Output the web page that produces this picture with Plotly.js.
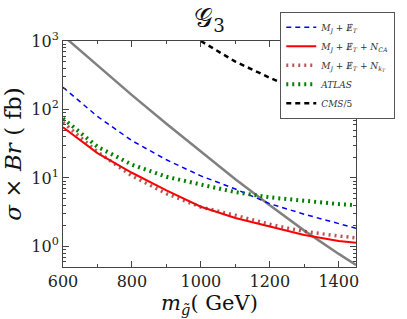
<!DOCTYPE html>
<html><head><meta charset="utf-8">
<script src="https://cdn.plot.ly/plotly-3.0.1.min.js"></script>
<style>html,body{margin:0;padding:0;background:#fff;}#c{width:407px;height:319px;}</style>
</head><body><div id="c"></div>
<script>
const mass = [600, 700, 800, 900, 1000, 1100, 1200, 1300, 1400, 1450];
const mjMet = [211, 79, 35, 18.4, 10.7, 6.9, 4.2, 2.95, 2.15, 1.84];
const mjMetNca = [55, 23, 11.9, 6.6, 3.8, 2.6, 1.95, 1.47, 1.2, 1.13];
const mjMetNkt = [65, 24, 10.7, 5.9, 3.75, 2.85, 2.1, 1.65, 1.42, 1.33];
const atlas = [74, 28.5, 15.6, 10.4, 8.0, 6.2, 5.2, 4.6, 4.15, 4.0];
const cmsMass = [1000, 1100, 1200, 1300, 1400, 1450];
const cms5 = [1000, 500, 290, 178, 117, 87];
const theory = [1200, 437, 162, 61.7, 24, 9.55, 3.98, 1.70, 0.776, 0.537];
const xTicks = [600, 800, 1000, 1200, 1400];
const yTicks = [1, 10, 100, 1000];
const yTickText = ['10<sup>0</sup>', '10<sup>1</sup>', '10<sup>2</sup>', '10<sup>3</sup>'];

const yMinor = [];
[0.1, 1, 10, 100].forEach(d => { for (let k = 2; k <= 9; k++) yMinor.push(k * d); });

const slashE = '<i>Ɇ<sub>T</sub></i>';
const mjLabel = '<i>M<sub>J</sub></i> + ' + slashE;

const traces = [
  {x: mass, y: theory, mode: 'lines', line: {color: '#808080', width: 2.5}, showlegend: false, hoverinfo: 'skip'},
  {x: mass, y: mjMet, mode: 'lines', name: mjLabel,
   line: {color: '#0000ff', width: 1.5, dash: '5px,4px'}},
  {x: mass, y: mjMetNca, mode: 'lines', name: mjLabel + ' + <i>N<sub>CA</sub></i>',
   line: {color: '#ff0000', width: 2}},
  {x: mass, y: mjMetNkt, mode: 'lines', name: mjLabel + ' + <i>N<sub>k<sub>T</sub></sub></i>',
   line: {color: 'rgba(165,42,42,0.8)', width: 3.5, dash: '2px,4px'}},
  {x: mass, y: atlas, mode: 'lines', name: '<i>ATLAS</i>',
   line: {color: '#008000', width: 4, dash: '2px,4px'}},
  {x: cmsMass, y: cms5, mode: 'lines', name: '<i>CMS</i>/5',
   line: {color: '#000000', width: 2.5, dash: '5px,4px'}}
];

const axisCommon = {
  showgrid: false, zeroline: false, showline: true, linecolor: '#444', linewidth: 1,
  mirror: 'allticks', ticks: 'inside', ticklen: 6, tickcolor: '#444',
  tickfont: {family: 'DejaVu Serif', size: 16, color: '#222'}
};

const layout = {
  width: 407, height: 319,
  margin: {l: 63, r: 45, t: 34, b: 52},
  paper_bgcolor: '#fff', plot_bgcolor: '#fff',
  title: {text: '𝒢<sub>3</sub>', x: 0.5, xref: 'paper', yref: 'container', y: 0.945, yanchor: 'middle',
          font: {family: 'DejaVu Serif', size: 26, color: '#111'}},
  xaxis: Object.assign({}, axisCommon, {
    range: [600, 1450], tickvals: xTicks, ticktext: xTicks.map(String),
    minor: {dtick: 100, tick0: 600, ticks: 'inside', ticklen: 3, tickcolor: '#444'},
    title: {text: '<i>m<sub>g̃</sub></i>( GeV)', standoff: 4, font: {family: 'DejaVu Serif', size: 21, color: '#111'}}
  }),
  yaxis: Object.assign({}, axisCommon, {
    type: 'log', range: [Math.log10(0.5), 3], tickvals: yTicks, ticktext: yTickText,
    minor: {tickvals: yMinor, ticks: 'inside', ticklen: 3, tickcolor: '#444'},
    title: {text: '<i>σ</i> × <i>Br</i> ( fb)', standoff: 4, font: {family: 'DejaVu Serif', size: 23, color: '#111'}}
  }),
  legend: {x: 1.134, xanchor: 'right', y: 1.129, yanchor: 'top',
    bgcolor: '#fff', bordercolor: '#555', borderwidth: 1,
    font: {family: 'DejaVu Serif', size: 9, color: '#333'},
    itemwidth: 30, tracegroupgap: 0},
  showlegend: true
};

Plotly.newPlot('c', traces, layout, {displayModeBar: false, staticPlot: true});
</script>
</body></html>
